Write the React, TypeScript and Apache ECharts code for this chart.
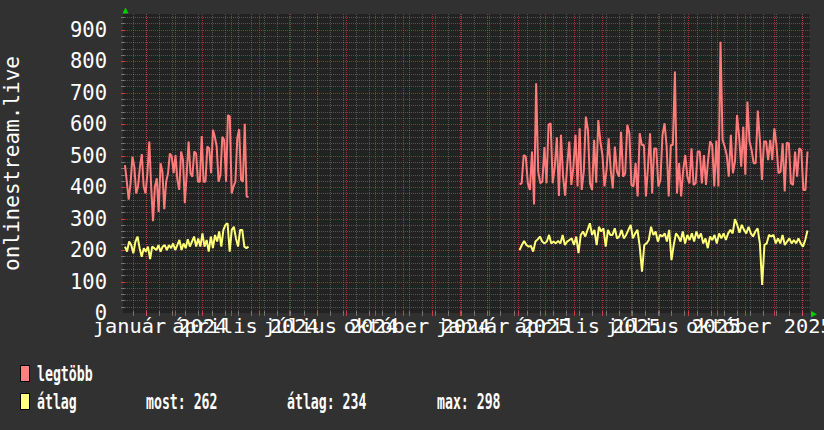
import React, { useEffect, useRef } from 'react';
import * as echarts from 'echarts';

const FONT = '"DejaVu Sans Mono", monospace';

// time axis extent
const AXIS_START = new Date(2023, 11, 7, 12).getTime();
const AXIS_END = new Date(2025, 11, 9, 0).getTime();
const Y_MAX = 950;

// data segments (time spans)
const SEG1_START = new Date(2023, 11, 9, 14).getTime();
const SEG1_END = new Date(2024, 3, 19, 8).getTime();
const SEG2_START = new Date(2025, 1, 2, 8).getTime();
const SEG2_END = new Date(2025, 11, 6, 8).getTime();

// "legtöbb" (max) values
const maxSeg1 = [
  470, 417, 360, 412, 497, 465, 380, 402, 465, 505, 402, 380, 444, 545, 402,
  292, 402, 428, 321, 476, 449, 330, 417, 444, 507, 497, 444, 502, 423, 391,
  513, 486, 349, 444, 545, 444, 433, 513, 507, 417, 417, 562, 417, 417, 529,
  523, 444, 582, 560, 529, 417, 439, 560, 550, 417, 629, 624, 380, 402, 417,
  555, 584, 423, 417, 601, 370, 368,
];
const maxSeg2 = [
  409, 412, 502, 497, 412, 391, 513, 345,
  730, 449, 412, 417, 527, 412, 598, 603, 412, 465,
  558, 372, 566, 433, 373, 470, 545, 407, 465, 566,
  402, 587, 391, 449, 624, 582, 412, 391, 550,
  414, 613, 545, 502, 402, 455, 555, 455, 396, 529,
  449, 433, 576, 433, 444, 598, 571, 407, 402, 476,
  370, 571, 534, 534, 370, 465, 571, 380, 523, 523,
  402, 423, 566, 603, 529, 370, 534, 534, 767, 380,
  476, 370, 455, 502, 433, 412, 523, 407, 412, 513,
  513, 412, 502, 407, 486, 545, 534, 402, 548, 402,
  862, 550, 529, 502, 433, 566, 444, 481, 629, 560,
  465, 592, 439, 672, 545, 518, 476, 476, 643, 550,
  423, 545, 545, 486, 550, 486, 587, 534, 444, 449,
  539, 386, 541, 539, 412, 407, 513, 433, 523, 518,
  391, 391, 513,
];

// "átlag" (average) values
const avgSeg1 = [
  211, 195, 227, 216, 190, 227, 243, 206, 179, 206, 195, 211, 171, 211, 206,
  200, 216, 195, 211, 216, 200, 216, 206, 221, 200, 216, 232, 200, 221, 206,
  234, 211, 227, 243, 211, 237, 211, 253, 211, 232, 195, 243, 206, 248, 227,
  259, 211, 264, 280, 285, 195, 264, 274, 237, 211, 264, 264, 211, 206, 211,
];
const avgSeg2 = [
  200, 216, 229, 216, 211, 213, 195, 227, 234, 243,
  227, 221, 227, 248, 221, 227, 221, 229, 221, 248,
  216, 227, 232, 237, 216, 243, 190, 248, 259, 243,
  264, 285, 248, 264, 216, 274, 259, 269, 211, 264,
  248, 248, 269, 237, 243, 264, 237, 248, 264, 280,
  237, 253, 264, 211, 131, 216, 221, 232, 274, 248,
  259, 227, 248, 243, 253, 227, 264, 168, 216, 253,
  243, 227, 259, 221, 248, 232, 253, 227, 259, 237,
  253, 221, 237, 206, 243, 232, 248, 221, 253, 237,
  253, 232, 253, 264, 253, 298, 280, 255, 280, 264,
  253, 274, 253, 243, 259, 269, 221, 89, 216, 221,
  248, 243, 248, 221, 237, 221, 248, 216, 227, 237,
  221, 232, 221, 237, 221, 211, 232, 262,
];

// legend statistics (átlag series)
const STAT_NOW = 262;
const STAT_AVG = 234;
const STAT_MAX = 298;

const monthNames = [
  'január', 'február', 'március', 'április', 'május', 'június',
  'július', 'augusztus', 'szeptember', 'október', 'november', 'december',
];
const labelMonths: [number, number][] = [
  [2024, 0], [2024, 3], [2024, 6], [2024, 9],
  [2025, 0], [2025, 3], [2025, 6], [2025, 9],
];
const labelTexts = labelMonths.map(([y, m]) => `${monthNames[m]} ${y}`);
const labelTimes = labelMonths.map(([y, m]) => new Date(y, m, 16).getTime());

// grid tick positions
const monthTicks: number[] = [];
for (let y = 2023; y <= 2025; y++) {
  for (let m = 0; m < 12; m++) {
    const t = new Date(y, m, 1).getTime();
    if (t > AXIS_START && t < AXIS_END) monthTicks.push(t);
  }
}
const minorTicks: number[] = [];
for (let d = new Date(2023, 11, 18); d.getTime() < AXIS_END; d = new Date(d.getFullYear(), d.getMonth(), d.getDate() + 14)) {
  minorTicks.push(d.getTime());
}
const yMinor: number[] = [];
for (let v = 20; v < Y_MAX; v += 20) if (v % 100 !== 0) yMinor.push(v);
const yMajor = [100, 200, 300, 400, 500, 600, 700, 800, 900];

const RED = '#ff7b7b';
const YELLOW = '#ffff78';
const MINOR = 'rgba(255,255,255,0.22)';
const MAJOR = 'rgba(255,60,60,0.55)';

function toPoints(values: number[], start: number, end: number) {
  const step = (end - start) / (values.length - 1);
  return values.map((v, i) => [start + i * step, v]);
}
function buildSeries(a: number[], b: number[]) {
  return [
    ...toPoints(a, SEG1_START, SEG1_END),
    [(SEG1_END + SEG2_START) / 2, null],
    ...toPoints(b, SEG2_START, SEG2_END),
  ];
}

function vLines(ticks: number[], color: string, tickColor: string, z: number) {
  return {
    type: 'custom',
    coordinateSystem: 'cartesian2d',
    silent: true,
    clip: false,
    z,
    data: ticks.map((t) => [t, 0]),
    renderItem: (params: any, api: any) => {
      const p = api.coord([api.value(0), 0]);
      const cs = params.coordSys;
      const x = Math.round(p[0]) + 0.5;
      return {
        type: 'group',
        children: [
          { type: 'line', shape: { x1: x, y1: cs.y, x2: x, y2: cs.y + cs.height }, style: { stroke: color, lineWidth: 1, lineDash: [1, 1] } },
          { type: 'line', shape: { x1: x, y1: cs.y + cs.height - 2, x2: x, y2: cs.y + cs.height + 3 }, style: { stroke: tickColor, lineWidth: 1 } },
        ],
      };
    },
  };
}
function hLines(vals: number[], color: string, tickColor: string, z: number) {
  return {
    type: 'custom',
    coordinateSystem: 'cartesian2d',
    silent: true,
    clip: false,
    z,
    data: vals.map((v) => [AXIS_START, v]),
    renderItem: (params: any, api: any) => {
      const p = api.coord([AXIS_START, api.value(1)]);
      const cs = params.coordSys;
      const y = Math.round(p[1]) + 0.5;
      return {
        type: 'group',
        children: [
          { type: 'line', shape: { x1: cs.x, y1: y, x2: cs.x + cs.width, y2: y }, style: { stroke: color, lineWidth: 1, lineDash: [1, 1] } },
          { type: 'line', shape: { x1: cs.x - 2, y1: y, x2: cs.x + 2, y2: y }, style: { stroke: tickColor, lineWidth: 1 } },
        ],
      };
    },
  };
}

const legendFont = `bold 22px ${FONT}`;

export default function App() {
  const ref = useRef<HTMLDivElement>(null);
  useEffect(() => {
    if (!ref.current) return;
    const chart = echarts.init(ref.current, undefined, { renderer: 'svg' });
    const option: any = {
      animation: false,
      backgroundColor: '#313131',
      grid: {
        left: 123, right: 14, top: 14, bottom: 117, containLabel: false, outerBoundsMode: 'none',
        show: true, backgroundColor: '#222222', borderWidth: 0,
      },
      xAxis: {
        type: 'time', min: AXIS_START, max: AXIS_END,
        axisLabel: { show: false }, axisTick: { show: false }, axisLine: { show: false }, splitLine: { show: false },
      },
      yAxis: {
        type: 'value', min: 0, max: Y_MAX, interval: 100,
        name: 'onlinestream.live', nameLocation: 'middle', nameRotate: 90, nameGap: 101,
        nameTextStyle: { color: '#ffffff', fontFamily: FONT, fontSize: 21 },
        axisLabel: { color: '#ffffff', fontFamily: FONT, fontSize: 20.5, margin: 16, formatter: (v: number) => (v > 900 ? '' : String(v)) },
        axisTick: { show: false }, axisLine: { show: false }, splitLine: { show: false },
      },
      series: [
        hLines(yMinor, MINOR, 'rgba(255,255,255,0.3)', 1),
        vLines(minorTicks, MINOR, 'rgba(255,255,255,0.3)', 1),
        hLines(yMajor, MAJOR, 'rgba(255,70,70,0.7)', 2),
        vLines(monthTicks, MAJOR, 'rgba(255,70,70,0.7)', 2),
        {
          type: 'custom', coordinateSystem: 'cartesian2d', silent: true, clip: false, z: 5,
          data: labelTimes.map((t) => [t, 0]),
          renderItem: (params: any, api: any) => {
            const p = api.coord([api.value(0), 0]);
            return {
              type: 'text', x: p[0], y: p[1] + 13,
              style: { text: labelTexts[params.dataIndex], fill: '#ffffff', font: `20.3px ${FONT}`, align: 'center', verticalAlign: 'middle' },
            };
          },
        },
        {
          type: 'line', name: 'legtöbb', data: buildSeries(maxSeg1, maxSeg2), symbol: 'none', showSymbol: false,
          connectNulls: false, silent: true, z: 3, lineStyle: { color: RED, width: 2 }, itemStyle: { color: RED },
        },
        {
          type: 'line', name: 'átlag', data: buildSeries(avgSeg1, avgSeg2), symbol: 'none', showSymbol: false,
          connectNulls: false, silent: true, z: 4, lineStyle: { color: YELLOW, width: 2 }, itemStyle: { color: YELLOW },
        },
      ],
      graphic: [
        { type: 'polygon', shape: { points: [[122.5, 13.5], [128.5, 13.5], [125.5, 7.5]] }, style: { fill: '#00d000' } },
        { type: 'polygon', shape: { points: [[811, 311], [811, 317.5], [817, 314.2]] }, style: { fill: '#00d000' } },
        { type: 'rect', shape: { x: 20.5, y: 365.5, width: 9, height: 16 }, style: { fill: '#ff8080', stroke: '#000000', lineWidth: 1 } },
        { type: 'rect', shape: { x: 20.5, y: 393.5, width: 9, height: 16 }, style: { fill: '#ffff80', stroke: '#000000', lineWidth: 1 } },
        { type: 'text', x: 37, y: 373, scaleX: 0.6, style: { text: 'legtöbb', fill: '#ffffff', font: legendFont, verticalAlign: 'middle' } },
        { type: 'text', x: 37, y: 401, scaleX: 0.6, style: { text: 'átlag', fill: '#ffffff', font: legendFont, verticalAlign: 'middle' } },
        { type: 'text', x: 146, y: 401, scaleX: 0.6, style: { text: `most: ${STAT_NOW}`, fill: '#ffffff', font: legendFont, verticalAlign: 'middle' } },
        { type: 'text', x: 287, y: 401, scaleX: 0.6, style: { text: `átlag: ${STAT_AVG}`, fill: '#ffffff', font: legendFont, verticalAlign: 'middle' } },
        { type: 'text', x: 437, y: 401, scaleX: 0.6, style: { text: `max: ${STAT_MAX}`, fill: '#ffffff', font: legendFont, verticalAlign: 'middle' } },
      ],
    };
    chart.setOption(option);
    return () => chart.dispose();
  }, []);
  return <div ref={ref} style={{ position: 'fixed', left: 0, top: 0, width: 824, height: 430 }} />;
}
